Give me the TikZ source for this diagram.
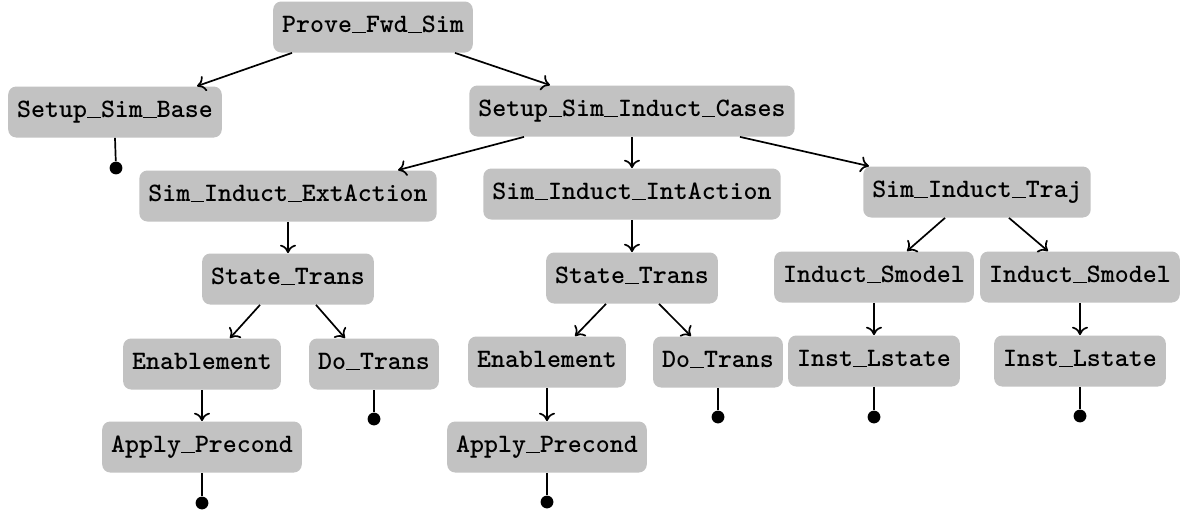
\documentclass[tikz,border=0pt]{standalone}
\usetikzlibrary{arrows.meta}
\definecolor{boxfill}{RGB}{194,194,194}
\newcommand\usc{\makebox[0.525em][c]{\rule[-0.2pt]{0.5em}{0.85pt}}}
\begin{document}
\begin{tikzpicture}[x=0.5pt,y=-0.5pt,
  box/.style={fill=boxfill,rounded corners=4pt,inner xsep=4.5pt,inner ysep=0pt,
    minimum height=25.5pt,text height=8.2pt,text depth=2.4pt,
    font=\fontsize{13.3}{16}\selectfont\ttfamily\bfseries},
  arr/.style={-{To[length=4.2pt,width=8pt]},line width=0.85pt},
  stem/.style={line width=0.85pt},
  dot/.style={circle,fill=black,inner sep=0pt,minimum size=6.4pt}]
\useasboundingbox (0,0) rectangle (1196,514);
% nodes
\node[box] (pf)  at (373,27)  {Prove\usc Fwd\usc Sim};
\node[box] (ssb) at (115,112) {Setup\usc Sim\usc Base};
\node[box] (sc)  at (632,111) {Setup\usc Sim\usc Induct\usc Cases};
\node[box] (ext) at (288,196) {Sim\usc Induct\usc ExtAction};
\node[box] (int) at (632,194) {Sim\usc Induct\usc IntAction};
\node[box] (trj) at (977,192) {Sim\usc Induct\usc Traj};
\node[box] (st1) at (288,279) {State\usc Trans};
\node[box] (st2) at (632,278) {State\usc Trans};
\node[box] (sm1) at (874,277) {Induct\usc Smodel};
\node[box] (sm2) at (1080,277) {Induct\usc Smodel};
\node[box] (en1) at (202,364) {Enablement};
\node[box] (dt1) at (374,364) {Do\usc Trans};
\node[box] (en2) at (547,362) {Enablement};
\node[box] (dt2) at (718,362) {Do\usc Trans};
\node[box] (il1) at (874,361) {Inst\usc Lstate};
\node[box] (il2) at (1080,361) {Inst\usc Lstate};
\node[box] (ap1) at (202,447) {Apply\usc Precond};
\node[box] (ap2) at (547,447) {Apply\usc Precond};
% terminal dots
\node[dot] (d0) at (116,168) {};
\node[dot] (d1) at (374,419) {};
\node[dot] (d2) at (202,503) {};
\node[dot] (d3) at (718,417) {};
\node[dot] (d4) at (547,502) {};
\node[dot] (d5) at (874,417) {};
\node[dot] (d6) at (1080,416) {};
% arrows
\draw[arr] ([xshift=-40.5pt]pf.south) -- ([xshift=41pt]ssb.north);
\draw[arr] ([xshift=41pt]pf.south) -- ([xshift=-41pt]sc.north);
\draw[arr] ([xshift=-54pt]sc.south) -- ([xshift=55pt]ext.north);
\draw[arr] (sc) -- (int);
\draw[arr] ([xshift=54pt]sc.south) -- ([xshift=-54pt]trj.north);
\draw[arr] (ext) -- (st1);
\draw[arr] ([xshift=-14pt]st1.south) -- ([xshift=14pt]en1.north);
\draw[arr] ([xshift=14pt]st1.south) -- ([xshift=-14.5pt]dt1.north);
\draw[arr] (int) -- (st2);
\draw[arr] ([xshift=-13pt]st2.south) -- ([xshift=14pt]en2.north);
\draw[arr] ([xshift=13.5pt]st2.south) -- ([xshift=-13.5pt]dt2.north);
\draw[arr] ([xshift=-16pt]trj.south) -- ([xshift=16.5pt]sm1.north);
\draw[arr] ([xshift=16pt]trj.south) -- ([xshift=-16pt]sm2.north);
\draw[arr] (sm1) -- (il1);
\draw[arr] (sm2) -- (il2);
\draw[arr] (en1) -- (ap1);
\draw[arr] (en2) -- (ap2);
% stems to dots
\draw[stem] (ssb.south) -- (d0);
\draw[stem] (dt1.south) -- (d1);
\draw[stem] (ap1.south) -- (d2);
\draw[stem] (dt2.south) -- (d3);
\draw[stem] (ap2.south) -- (d4);
\draw[stem] (il1.south) -- (d5);
\draw[stem] (il2.south) -- (d6);
\end{tikzpicture}
\end{document}
